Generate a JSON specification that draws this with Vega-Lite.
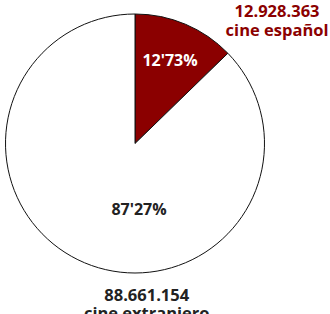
{
  "$schema": "https://vega.github.io/schema/vega-lite/v6.json",
  "width": 270,
  "height": 287,
  "padding": {"left": 0, "top": 0, "right": 60, "bottom": 27},
  "autosize": {"type": "none"},
  "background": "#ffffff",
  "config": {"view": {"stroke": null}, "text": {"font": "Open Sans", "fontWeight": "bold"}},
  "data": {
    "values": [
      {"tipo": "cine español", "espectadores": 12928363, "pct": "12'73%", "label": "12.928.363\ncine español"},
      {"tipo": "cine extranjero", "espectadores": 88661154, "pct": "87'27%", "label": "88.661.154\ncine extranjero"}
    ]
  },
  "encoding": {
    "theta": {"field": "espectadores", "type": "quantitative", "stack": true},
    "order": {"field": "tipo", "type": "nominal"}
  },
  "layer": [
    {
      "mark": {"type": "arc", "outerRadius": 129.5, "stroke": "#111111", "strokeWidth": 1},
      "encoding": {
        "color": {"field": "tipo", "type": "nominal", "scale": {"domain": ["cine español", "cine extranjero"], "range": ["#8b0000", "#ffffff"]}, "legend": null}
      }
    },
    {
      "transform": [{"filter": "datum.tipo === 'cine español'"}],
      "mark": {"type": "text", "radius": 90, "fontSize": 16, "color": "#ffffff", "align": "center", "baseline": "middle"},
      "encoding": {"text": {"field": "pct"}}
    },
    {
      "transform": [{"filter": "datum.tipo === 'cine extranjero'"}],
      "mark": {"type": "text", "radius": 72, "dx": -24, "fontSize": 16, "color": "#222222", "align": "center", "baseline": "middle"},
      "encoding": {"text": {"field": "pct"}}
    },
    {
      "transform": [{"filter": "datum.tipo === 'cine español'"}],
      "mark": {"type": "text", "radius": 135, "dx": 89.5, "dy": -7, "fontSize": 16.5, "lineHeight": 19, "lineBreak": "\n", "color": "#8b0000", "align": "center", "baseline": "middle"},
      "encoding": {"text": {"field": "label"}}
    },
    {
      "transform": [{"filter": "datum.tipo === 'cine extranjero'"}],
      "mark": {"type": "text", "radius": 174, "dx": -56, "dy": -8, "fontSize": 16.5, "lineHeight": 18, "lineBreak": "\n", "color": "#222222", "align": "center", "baseline": "middle"},
      "encoding": {"text": {"field": "label"}}
    }
  ]
}
